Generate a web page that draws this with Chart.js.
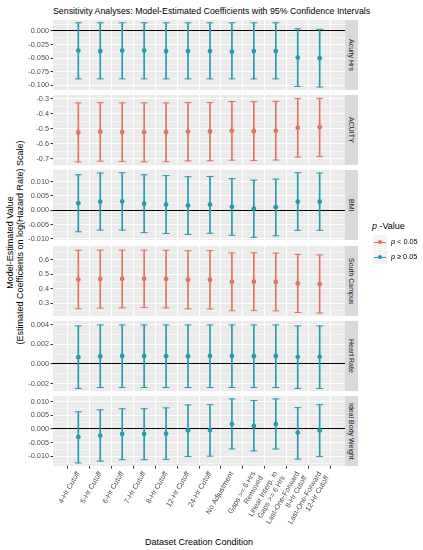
<!DOCTYPE html>
<html>
<head>
<meta charset="utf-8">
<script src="https://cdn.jsdelivr.net/npm/chart.js@4.4.1/dist/chart.umd.min.js"></script>
<style>
  body { margin: 0; background: #fff; }
  #fig { position: relative; width: 423px; height: 550px; overflow: hidden; background: #fff;
         font-family: "Liberation Sans", Arial, sans-serif; color: #000; }
  .holder { position: absolute; left: 0; top: 0; }
  .holder canvas { display: block; }
  .strip { position: absolute; left: 345px; width: 13px; background: #D9D9D9; color: #1A1A1A;
           font-size: 7px; writing-mode: vertical-rl; display: flex; align-items: center;
           justify-content: center; white-space: nowrap; }
  .txt { position: absolute; white-space: nowrap; }
  .key { position: absolute; width: 14px; height: 14px; background: #F2F2F2; }
  .key .ln { position: absolute; left: 1px; right: 1px; top: 6.5px; height: 1px; }
  .key .pt { position: absolute; left: 5px; top: 5px; width: 4px; height: 4px; border-radius: 50%; }
</style>
</head>
<body>
<div id="fig">
  <div class="txt" style="left:53px;width:292px;top:6px;text-align:center;font-size:8.8px;line-height:10px;">Sensitivity Analyses: Model-Estimated Coefficients with 95% Confidence Intervals</div>
  <div class="txt" style="left:-135px;width:300px;top:233px;text-align:center;font-size:9px;line-height:9.5px;transform:rotate(-90deg);">Model-Estimated Value<br>(Estimated Coefficients on log(Hazard Rate) Scale)</div>
  <div class="txt" style="left:53px;width:292px;top:537px;text-align:center;font-size:9px;line-height:10px;">Dataset Creation Condition</div>
  <div class="txt" style="left:372px;top:221px;font-size:9px;line-height:10px;"><i>p</i> -Value</div>
</div>
<script>
// categories on the x axis
const categories = ["4-Hr Cutoff", "5-Hr Cutoff", "6-Hr Cutoff", "7-Hr Cutoff", "8-Hr Cutoff",
    "12-Hr Cutoff", "24-Hr Cutoff", "No Adjustment", ["Gaps >= 6 Hrs", "Removed"],
    ["Linear Interp. in", "Gaps >= 6 Hrs"], ["Last-One-Forward", "8-Hr Cutoff"],
    ["Last-One-Forward", "12-Hr Cutoff"]];

// Acuity Hrs
const acuityHrsEst = [-0.036, -0.037, -0.036, -0.036, -0.037, -0.037, -0.037, -0.038, -0.037, -0.037, -0.049, -0.050];
const acuityHrsLo = [-0.088, -0.088, -0.088, -0.088, -0.088, -0.088, -0.088, -0.088, -0.088, -0.088, -0.102, -0.103];
const acuityHrsHi = [0.015, 0.015, 0.015, 0.015, 0.015, 0.015, 0.015, 0.015, 0.015, 0.015, 0.004, 0.003];
const acuityHrsTicks = [0, -0.025, -0.05, -0.075, -0.1];

// ACUITY
const acuityEst = [-0.525, -0.520, -0.522, -0.524, -0.523, -0.519, -0.518, -0.514, -0.516, -0.514, -0.494, -0.490];
const acuityLo = [-0.721, -0.716, -0.718, -0.720, -0.719, -0.714, -0.713, -0.709, -0.711, -0.708, -0.689, -0.685];
const acuityHi = [-0.328, -0.327, -0.328, -0.328, -0.328, -0.326, -0.326, -0.319, -0.320, -0.318, -0.300, -0.298];
const acuityTicks = [-0.3, -0.4, -0.5, -0.6, -0.7];

// BMI
const bmiEst = [0.0025, 0.0030, 0.0031, 0.0023, 0.0020, 0.0017, 0.0020, 0.0012, 0.0006, 0.0011, 0.0030, 0.0030];
const bmiLo = [-0.0075, -0.0069, -0.0069, -0.0078, -0.0081, -0.0084, -0.0080, -0.0087, -0.0094, -0.0089, -0.0070, -0.0070];
const bmiHi = [0.0124, 0.0130, 0.0131, 0.0124, 0.0121, 0.0117, 0.0118, 0.0110, 0.0105, 0.0109, 0.0131, 0.0130];
const bmiTicks = [0.01, 0.005, 0, -0.005, -0.01];

// South Campus
const southEst = [0.463, 0.467, 0.468, 0.469, 0.467, 0.462, 0.462, 0.448, 0.449, 0.447, 0.437, 0.433];
const southLo = [0.263, 0.268, 0.270, 0.272, 0.270, 0.263, 0.262, 0.250, 0.251, 0.249, 0.238, 0.234];
const southHi = [0.664, 0.665, 0.665, 0.665, 0.664, 0.661, 0.662, 0.646, 0.647, 0.645, 0.636, 0.632];
const southTicks = [0.6, 0.5, 0.4, 0.3];

// Heart Rate
const heartEst = [0.00070, 0.00078, 0.00082, 0.00082, 0.00080, 0.00080, 0.00082, 0.00082, 0.00080, 0.00082, 0.00074, 0.00074];
const heartLo = [-0.0025, -0.0024, -0.0024, -0.0024, -0.0024, -0.0024, -0.0024, -0.0024, -0.0024, -0.0024, -0.0025, -0.0025];
const heartHi = [0.0039, 0.0040, 0.0040, 0.0040, 0.0040, 0.0040, 0.0040, 0.0040, 0.0040, 0.0040, 0.0039, 0.0039];
const heartTicks = [0.004, 0.002, 0, -0.002];

// Ideal Body Weight
const ibwEst = [-0.0029, -0.0024, -0.0018, -0.0018, -0.0017, -0.0005, -0.0004, 0.0018, 0.0011, 0.0018, -0.0013, -0.0005];
const ibwLo = [-0.0124, -0.0117, -0.0112, -0.0112, -0.0111, -0.0100, -0.0099, -0.0073, -0.0080, -0.0073, -0.0110, -0.0100];
const ibwHi = [0.0063, 0.0070, 0.0074, 0.0074, 0.0077, 0.0088, 0.0089, 0.0110, 0.0104, 0.0110, 0.0078, 0.0089];
const ibwTicks = [0.01, 0.005, 0, -0.005, -0.01];

// p-value group per panel
const pGroups = ["p < 0.05", "p ≥ 0.05"];
const panelGroup = ["p ≥ 0.05", "p < 0.05", "p ≥ 0.05", "p < 0.05", "p ≥ 0.05", "p ≥ 0.05"];

const RED = '#E2735F';
const TEAL = '#2799B0';
const groupColor = { "p < 0.05": RED, "p ≥ 0.05": TEAL };
const FONT = '"Liberation Sans", Arial, sans-serif';

const panels = [
    { name: 'Acuity Hrs', est: acuityHrsEst, lo: acuityHrsLo, hi: acuityHrsHi, ticks: acuityHrsTicks, dec: 3, min: -0.1087, max: 0.0203 },
    { name: 'ACUITY', est: acuityEst, lo: acuityLo, hi: acuityHi, ticks: acuityTicks, dec: 1, min: -0.742, max: -0.275 },
    { name: 'BMI', est: bmiEst, lo: bmiLo, hi: bmiHi, ticks: bmiTicks, dec: 3, min: -0.0104, max: 0.0141 },
    { name: 'South Campus', est: southEst, lo: southLo, hi: southHi, ticks: southTicks, dec: 1, min: 0.213, max: 0.694 },
    { name: 'Heart Rate', est: heartEst, lo: heartLo, hi: heartHi, ticks: heartTicks, dec: 3, min: -0.00277, max: 0.00441 },
    { name: 'Ideal Body Weight', est: ibwEst, lo: ibwLo, hi: ibwHi, ticks: ibwTicks, dec: 3, min: -0.0135, max: 0.0121 }
];

const fig = document.getElementById('fig');
const PLOT_LEFT = 53, PLOT_RIGHT = 345, PANEL_H = 70;

// grey panel background
const panelBg = {
    id: 'panelBg',
    beforeDraw(chart) {
        const a = chart.chartArea;
        const ctx = chart.ctx;
        ctx.save();
        ctx.fillStyle = '#EBEBEB';
        ctx.fillRect(a.left, a.top, a.right - a.left, a.bottom - a.top);
        ctx.restore();
    }
};

// ggplot-style minor breaks half way between the major ones
function withMinor(major, min, max) {
    const s = major.slice().sort((a, b) => a - b);
    const step = s[1] - s[0];
    const out = s.slice();
    for (let i = 0; i < s.length - 1; i++) out.push((s[i] + s[i + 1]) / 2);
    if (s[0] - step / 2 >= min) out.push(s[0] - step / 2);
    if (s[s.length - 1] + step / 2 <= max) out.push(s[s.length - 1] + step / 2);
    return out.sort((a, b) => a - b);
}

function panelConfig(p, i) {
    const last = i === panels.length - 1;
    const col = groupColor[panelGroup[i]];
    const xs = categories.map((c, k) => k + 1);
    const isMajor = v => p.ticks.includes(v);
    return {
        type: 'scatter',
        data: {
            datasets: [
                { type: 'scatter', data: xs.map((x, k) => ({ x: x, y: p.est[k] })),
                  pointRadius: 2.4, pointBackgroundColor: col, pointBorderWidth: 0 },
                { type: 'scatter', data: xs.map((x, k) => ({ x: x, y: p.hi[k] })),
                  pointStyle: 'line', pointRadius: 3.5, pointBorderColor: col, pointBorderWidth: 1 },
                { type: 'scatter', data: xs.map((x, k) => ({ x: x, y: p.lo[k] })),
                  pointStyle: 'line', pointRadius: 3.5, pointBorderColor: col, pointBorderWidth: 1 },
                { type: 'bar', data: xs.map((x, k) => ({ x: x, y: [p.lo[k], p.hi[k]] })),
                  backgroundColor: col, borderWidth: 0, barThickness: 1 }
            ]
        },
        options: {
            responsive: false,
            animation: false,
            events: [],
            layout: { padding: 0 },
            plugins: { legend: { display: false }, tooltip: { enabled: false } },
            scales: {
                x: {
                    type: 'linear', min: 0.4, max: 12.6,
                    afterBuildTicks: s => { s.ticks = xs.map(v => ({ value: v })); },
                    afterFit: s => { if (last) s.height = 64; },
                    border: { display: false },
                    grid: { color: '#FFFFFF', lineWidth: 1, drawTicks: last, tickLength: 2.5, tickColor: '#333333' },
                    ticks: {
                        display: last, autoSkip: false, minRotation: 60, maxRotation: 60, padding: 1.5,
                        color: '#4D4D4D', font: { family: FONT, size: 7.3 },
                        callback: v => categories[v - 1]
                    }
                },
                y: {
                    type: 'linear', min: p.min, max: p.max,
                    afterBuildTicks: s => { s.ticks = withMinor(p.ticks, p.min, p.max).map(v => ({ value: v })); },
                    afterFit: s => { s.width = PLOT_LEFT; },
                    border: { display: false },
                    grid: {
                        z: -0.5,
                        color: c => (c.tick && c.tick.value === 0) ? '#000000' : '#FFFFFF',
                        lineWidth: c => (c.tick && c.tick.value === 0) ? 1.1 : (c.tick && isMajor(c.tick.value) ? 1 : 0.5),
                        tickColor: c => (c.tick && isMajor(c.tick.value)) ? '#333333' : 'rgba(0,0,0,0)',
                        tickLength: 2.5
                    },
                    ticks: {
                        autoSkip: false,
                        padding: 1.5, color: '#4D4D4D', font: { family: FONT, size: 7.3 },
                        callback: v => isMajor(v) ? v.toFixed(p.dec) : ''
                    }
                }
            }
        },
        plugins: [panelBg]
    };
}

function makePanel(p, i) {
    const last = i === panels.length - 1;
    const top = Math.round(20 + i * 75.2);

    const strip = document.createElement('div');
    strip.className = 'strip';
    strip.style.top = top + 'px';
    strip.style.height = PANEL_H + 'px';
    strip.textContent = p.name;
    fig.appendChild(strip);

    const holder = document.createElement('div');
    holder.className = 'holder';
    fig.appendChild(holder);

    // first pass: measure how much room the axes take
    let cv = document.createElement('canvas');
    cv.width = 360;
    cv.height = last ? 200 : 100;
    holder.appendChild(cv);
    let chart = new Chart(cv, panelConfig(p, i));
    const a = chart.chartArea;
    const w = Math.round(cv.width + (PLOT_RIGHT - PLOT_LEFT) - (a.right - a.left));
    const h = Math.round(cv.height + PANEL_H - (a.bottom - a.top));
    chart.destroy();
    holder.removeChild(cv);

    // second pass: canvas sized so the plot area sits on the panel box
    cv = document.createElement('canvas');
    cv.width = w;
    cv.height = h;
    holder.appendChild(cv);
    chart = new Chart(cv, panelConfig(p, i));
    const b = chart.chartArea;
    holder.style.left = (PLOT_LEFT - b.left) + 'px';
    holder.style.top = (top - b.top) + 'px';
}

panels.forEach(makePanel);

// legend
pGroups.forEach((g, k) => {
    const y = 235 + k * 15;
    const key = document.createElement('div');
    key.className = 'key';
    key.style.left = '373px';
    key.style.top = y + 'px';
    key.innerHTML = '<div class="ln" style="background:' + groupColor[g] + '"></div>' +
                    '<div class="pt" style="background:' + groupColor[g] + '"></div>';
    fig.appendChild(key);
    const t = document.createElement('div');
    t.className = 'txt';
    t.style.left = '391px';
    t.style.top = (y + 3) + 'px';
    t.style.fontSize = '7.3px';
    t.style.lineHeight = '8px';
    t.innerHTML = '<i>p</i> ' + g.slice(2);
    fig.appendChild(t);
});
</script>
</body>
</html>
